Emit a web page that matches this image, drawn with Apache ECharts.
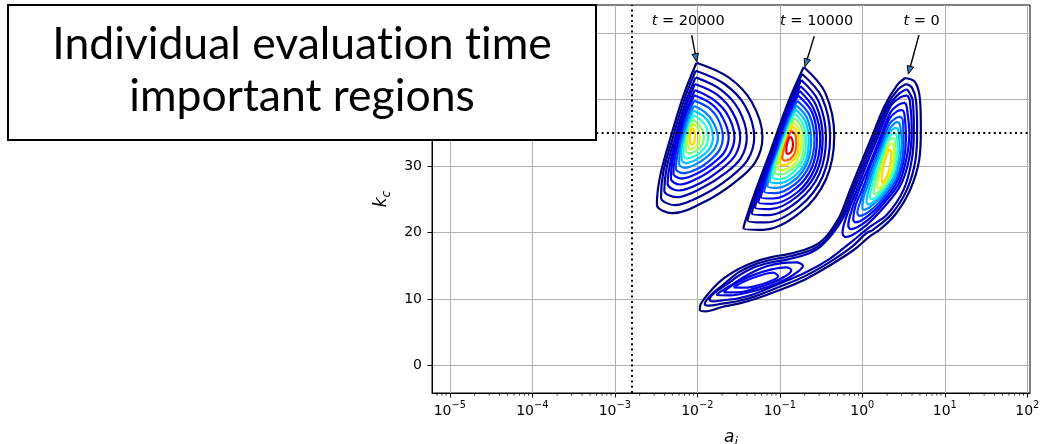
<!DOCTYPE html>
<html>
<head>
<meta charset="utf-8">
<script src="https://cdn.jsdelivr.net/npm/echarts@6/dist/echarts.min.js"></script>
<style>
  html, body { margin: 0; padding: 0; background: #fff; }
  #chart { width: 1043px; height: 444px; }
</style>
</head>
<body>
<div id="chart"></div>
<script>
// ---- axes (x is log10 of a_i) ----
const xRange = [-5.216, 2.033];
const kRange = [-4.12, 54.17];
const xTickValues = [-5, -4, -3, -2, -1, 0, 1, 2];
const kTickValues = [0, 10, 20, 30, 40, 50];
const minorDecades = [-6, -5, -4, -3, -2, -1, 0, 1];
const minorMultipliers = [2, 3, 4, 5, 6, 7, 8, 9];

// ---- reference thresholds ----
const thresholdA = 1.6e-3;
const thresholdK = 35;

// ---- contour level colours (lowest density first) ----
const levelColors = ['#00007f', '#000098', '#0000b2', '#0000cc', '#0000e6', '#0008ff', '#0048ff',
  '#0088ff', '#00c8ff', '#28ffd0', '#78ff80', '#c8ff30', '#ffd800', '#ff6000', '#e00000'];

// ---- density contours, points are [log10(a_i), k_c]; ring i sits on level i ----
const ringsT20000 = [
  [[-2.01,45.5],[-1.62,43.3],[-1.34,39.6],[-1.21,34.3],[-1.30,30.5],[-1.55,27.5],[-1.90,24.7],[-2.30,22.9],[-2.49,24.2],[-2.45,28.5],[-2.33,34.0],[-2.17,40.5]],
  [[-2.02,44.3],[-1.67,42.3],[-1.42,39.0],[-1.31,34.3],[-1.39,30.9],[-1.61,28.2],[-1.92,25.7],[-2.27,24.1],[-2.44,25.3],[-2.41,29.2],[-2.30,34.1],[-2.16,39.9]],
  [[-2.02,43.3],[-1.72,41.5],[-1.50,38.5],[-1.40,34.3],[-1.47,31.2],[-1.66,28.9],[-1.94,26.7],[-2.25,25.3],[-2.40,26.3],[-2.37,29.8],[-2.27,34.2],[-2.15,39.3]],
  [[-2.03,42.3],[-1.76,40.7],[-1.57,38.0],[-1.48,34.3],[-1.54,31.6],[-1.71,29.5],[-1.95,27.5],[-2.23,26.3],[-2.36,27.3],[-2.33,30.3],[-2.25,34.2],[-2.14,38.8]],
  [[-2.03,41.4],[-1.80,39.9],[-1.63,37.6],[-1.55,34.3],[-1.61,31.8],[-1.76,30.0],[-1.97,28.3],[-2.21,27.2],[-2.32,28.1],[-2.30,30.8],[-2.23,34.3],[-2.13,38.3]],
  [[-2.04,40.6],[-1.83,39.3],[-1.69,37.2],[-1.62,34.3],[-1.67,32.1],[-1.80,30.5],[-1.98,29.0],[-2.19,28.1],[-2.29,28.9],[-2.27,31.3],[-2.21,34.4],[-2.12,37.9]],
  [[-2.04,39.8],[-1.86,38.7],[-1.74,36.8],[-1.69,34.2],[-1.73,32.4],[-1.84,30.9],[-1.99,29.6],[-2.17,28.9],[-2.26,29.6],[-2.24,31.7],[-2.19,34.4],[-2.12,37.5]],
  [[-2.04,39.0],[-1.90,38.0],[-1.80,36.4],[-1.75,34.2],[-1.79,32.6],[-1.88,31.4],[-2.01,30.3],[-2.15,29.7],[-2.22,30.3],[-2.21,32.1],[-2.17,34.5],[-2.11,37.1]],
  [[-2.05,38.3],[-1.93,37.5],[-1.84,36.1],[-1.81,34.2],[-1.84,32.8],[-1.91,31.8],[-2.02,30.9],[-2.14,30.4],[-2.19,31.0],[-2.19,32.5],[-2.15,34.5],[-2.10,36.7]],
  [[-2.05,37.7],[-1.96,36.9],[-1.89,35.8],[-1.87,34.2],[-1.89,33.1],[-1.95,32.2],[-2.03,31.5],[-2.12,31.1],[-2.17,31.6],[-2.16,32.9],[-2.13,34.6],[-2.09,36.3]],
  [[-2.05,37.0],[-1.99,36.3],[-1.94,35.4],[-1.92,34.2],[-1.94,33.3],[-1.98,32.6],[-2.04,32.1],[-2.10,31.9],[-2.14,32.3],[-2.14,33.3],[-2.12,34.6],[-2.09,36.0]],
  [[-2.06,36.4],[-2.01,35.9],[-1.98,35.1],[-1.97,34.2],[-1.98,33.5],[-2.01,33.0],[-2.05,32.6],[-2.09,32.5],[-2.11,32.9],[-2.12,33.6],[-2.10,34.7],[-2.08,35.7]],
  [[-2.06,35.7],[-2.04,35.3],[-2.03,34.8],[-2.03,34.2],[-2.035,33.7],[-2.045,33.4],[-2.06,33.2],[-2.075,33.2],[-2.085,33.5],[-2.09,34.0],[-2.085,34.7],[-2.075,35.3]]
];

const ringsT10000 = [
  [[-0.71,44.85],[-0.45,41.0],[-0.34,34.5],[-0.44,28.0],[-0.75,23.0],[-1.20,20.4],[-1.44,20.6],[-1.33,25.0],[-1.12,32.0],[-0.90,39.5]],
  [[-0.73,43.8],[-0.49,40.3],[-0.39,34.4],[-0.48,28.4],[-0.76,23.9],[-1.17,21.5],[-1.39,21.8],[-1.29,25.8],[-1.10,32.1],[-0.90,39.0]],
  [[-0.74,42.9],[-0.53,39.7],[-0.44,34.3],[-0.52,28.8],[-0.78,24.7],[-1.14,22.6],[-1.34,22.8],[-1.25,26.5],[-1.08,32.3],[-0.90,38.5]],
  [[-0.75,42.0],[-0.56,39.1],[-0.48,34.2],[-0.55,29.2],[-0.79,25.4],[-1.12,23.5],[-1.30,23.7],[-1.22,27.1],[-1.06,32.4],[-0.90,38.0]],
  [[-0.76,41.3],[-0.59,38.6],[-0.51,34.1],[-0.58,29.5],[-0.79,26.0],[-1.10,24.3],[-1.26,24.5],[-1.19,27.6],[-1.05,32.5],[-0.90,37.7]],
  [[-0.78,40.6],[-0.61,38.1],[-0.55,34.0],[-0.61,29.8],[-0.80,26.7],[-1.08,25.1],[-1.23,25.3],[-1.16,28.2],[-1.03,32.6],[-0.90,37.3]],
  [[-0.79,39.8],[-0.64,37.6],[-0.58,33.9],[-0.64,30.1],[-0.81,27.3],[-1.06,25.9],[-1.19,26.1],[-1.13,28.7],[-1.02,32.7],[-0.90,36.9]],
  [[-0.80,39.1],[-0.67,37.2],[-0.62,33.8],[-0.67,30.4],[-0.82,27.9],[-1.04,26.7],[-1.15,26.9],[-1.11,29.2],[-1.00,32.8],[-0.90,36.5]],
  [[-0.81,38.5],[-0.69,36.7],[-0.65,33.7],[-0.69,30.6],[-0.83,28.4],[-1.02,27.4],[-1.12,27.6],[-1.08,29.7],[-0.99,32.9],[-0.89,36.2]],
  [[-0.82,37.9],[-0.72,36.3],[-0.68,33.6],[-0.72,30.9],[-0.84,29.0],[-1.00,28.0],[-1.09,28.3],[-1.06,30.2],[-0.98,32.9],[-0.89,35.9]],
  [[-0.83,37.2],[-0.74,35.9],[-0.71,33.6],[-0.74,31.1],[-0.85,29.5],[-0.99,28.7],[-1.06,29.0],[-1.03,30.6],[-0.97,33.0],[-0.89,35.6]],
  [[-0.84,36.6],[-0.77,35.5],[-0.74,33.5],[-0.77,31.4],[-0.85,30.0],[-0.97,29.4],[-1.03,29.7],[-1.01,31.1],[-0.95,33.1],[-0.89,35.2]],
  [[-0.85,36.0],[-0.79,35.1],[-0.77,33.4],[-0.79,31.7],[-0.86,30.6],[-0.95,30.1],[-1.00,30.4],[-0.98,31.5],[-0.94,33.2],[-0.89,34.9]],
  [[-0.86,35.3],[-0.81,34.6],[-0.80,33.3],[-0.82,31.9],[-0.87,31.1],[-0.93,30.8],[-0.97,31.1],[-0.96,32.0],[-0.93,33.3],[-0.89,34.6]],
  [[-0.87,34.4],[-0.85,34.0],[-0.84,33.2],[-0.855,32.3],[-0.88,31.9],[-0.905,31.8],[-0.92,32.1],[-0.92,32.7],[-0.91,33.4],[-0.89,34.1]]
];

// t = 0: the three lowest levels wrap the main peak and the low-k lobe together
const ringsT0Outer = [
  [[0.52,43.2],[0.64,42.6],[0.70,39.9],[0.71,35.4],[0.69,30.9],[0.58,26.4],[0.40,22.7],[0.21,20.4],[0.09,19.4],[-0.10,17.4],[-0.40,15.0],[-0.70,12.9],[-1.00,11.35],[-1.30,10.0],[-1.50,9.3],[-1.70,8.8],[-1.90,8.15],[-1.97,8.4],[-1.96,9.2],[-1.88,10.6],[-1.72,12.7],[-1.50,14.5],[-1.30,15.6],[-1.10,16.3],[-0.90,16.75],[-0.70,17.4],[-0.55,18.2],[-0.45,19.2],[-0.375,20.4],[-0.27,22.5],[-0.15,26.3],[-0.03,30.0],[0.12,34.5],[0.27,39.0],[0.42,42.1]],
  [[0.53,42.3],[0.60,41.8],[0.65,39.9],[0.665,35.4],[0.645,30.9],[0.54,26.4],[0.35,22.7],[0.13,20.4],[0.05,19.9],[-0.12,17.9],[-0.40,15.5],[-0.70,13.4],[-1.00,11.85],[-1.30,10.4],[-1.50,9.7],[-1.70,9.3],[-1.86,9.0],[-1.91,9.2],[-1.89,9.8],[-1.80,11.0],[-1.68,12.2],[-1.50,14.0],[-1.30,15.2],[-1.10,15.9],[-0.90,16.35],[-0.70,17.0],[-0.55,17.8],[-0.45,18.8],[-0.35,20.4],[-0.245,22.5],[-0.125,26.3],[-0.005,30.0],[0.145,34.5],[0.295,39.0],[0.435,41.5]],
  [[0.54,41.5],[0.57,41.0],[0.61,39.9],[0.625,35.4],[0.60,30.9],[0.50,26.4],[0.30,22.7],[0.10,20.9],[-0.15,18.4],[-0.40,16.0],[-0.70,13.9],[-1.00,12.35],[-1.30,10.8],[-1.50,10.1],[-1.70,9.8],[-1.80,9.65],[-1.85,9.85],[-1.83,10.5],[-1.74,11.4],[-1.62,12.4],[-1.50,13.5],[-1.30,14.8],[-1.10,15.5],[-0.90,15.95],[-0.70,16.6],[-0.56,17.4],[-0.46,18.4],[-0.325,20.4],[-0.22,22.5],[-0.10,26.3],[0.02,30.0],[0.17,34.5],[0.32,39.0],[0.45,40.9]]
];
const levelsT0Outer = [0, 1, 2];

// low-k lobe of t = 0
const ringsT0Lobe = [
  [[-1.77,10.6],[-1.60,10.55],[-1.40,10.95],[-1.15,11.8],[-0.92,13.0],[-0.78,14.1],[-0.72,15.0],[-0.80,15.5],[-0.98,15.4],[-1.15,14.95],[-1.30,14.2],[-1.45,13.2],[-1.60,12.0],[-1.72,11.1]],
  [[-1.68,11.0],[-1.52,11.0],[-1.30,11.6],[-1.10,12.4],[-0.95,13.3],[-0.86,14.3],[-0.92,14.75],[-1.10,14.45],[-1.30,13.7],[-1.50,12.6],[-1.63,11.6]],
  [[-1.56,11.75],[-1.42,11.7],[-1.25,12.1],[-1.10,12.75],[-1.02,13.4],[-1.08,13.95],[-1.25,13.5],[-1.42,12.7],[-1.53,12.0]]
];
const levelsT0Lobe = [3, 4, 5];

// main peak of t = 0
const ringsT0Peak = [
  [[0.545,40.6],[0.575,39.9],[0.60,35.4],[0.565,30.9],[0.46,27.0],[0.27,23.9],[0.04,21.0],[-0.20,19.3],[-0.24,19.9],[-0.19,22.5],[-0.07,26.3],[0.045,30.0],[0.195,34.5],[0.345,39.0],[0.46,40.3]],
  [[0.52,39.5],[0.54,38.8],[0.57,34.8],[0.53,30.8],[0.44,27.3],[0.27,24.5],[0.07,21.9],[-0.14,20.5],[-0.17,21.0],[-0.13,23.3],[-0.03,26.7],[0.08,30.0],[0.21,34.0],[0.34,38.0],[0.44,39.2]],
  [[0.49,38.4],[0.51,37.8],[0.53,34.3],[0.50,30.7],[0.42,27.6],[0.28,25.1],[0.10,22.8],[-0.08,21.5],[-0.11,22.0],[-0.08,24.1],[0.02,27.1],[0.10,30.1],[0.22,33.6],[0.33,37.1],[0.42,38.2]],
  [[0.46,37.4],[0.49,36.9],[0.50,33.8],[0.48,30.7],[0.41,27.9],[0.28,25.6],[0.13,23.6],[-0.03,22.5],[-0.06,22.9],[-0.02,24.8],[0.05,27.4],[0.13,30.1],[0.23,33.2],[0.33,36.3],[0.41,37.2]],
  [[0.44,36.6],[0.46,36.0],[0.48,33.4],[0.45,30.6],[0.39,28.1],[0.28,26.1],[0.15,24.4],[0.02,23.4],[0.00,23.8],[0.02,25.4],[0.09,27.8],[0.15,30.1],[0.24,32.9],[0.33,35.5],[0.39,36.4]],
  [[0.42,35.7],[0.44,35.2],[0.45,32.9],[0.43,30.5],[0.38,28.3],[0.28,26.5],[0.18,25.0],[0.07,24.2],[0.05,24.6],[0.07,26.0],[0.12,28.0],[0.17,30.1],[0.25,32.5],[0.32,34.8],[0.38,35.6]],
  [[0.40,34.9],[0.42,34.4],[0.43,32.5],[0.41,30.5],[0.36,28.5],[0.28,26.9],[0.20,25.7],[0.11,25.0],[0.09,25.4],[0.11,26.6],[0.15,28.3],[0.20,30.1],[0.26,32.2],[0.32,34.1],[0.36,34.8]],
  [[0.38,34.2],[0.40,33.7],[0.40,32.2],[0.39,30.4],[0.35,28.7],[0.29,27.3],[0.22,26.3],[0.15,25.8],[0.14,26.1],[0.15,27.1],[0.18,28.6],[0.22,30.2],[0.27,31.9],[0.31,33.5],[0.35,34.1]],
  [[0.36,33.4],[0.38,33.0],[0.38,31.8],[0.37,30.4],[0.34,29.0],[0.29,27.7],[0.24,27.0],[0.20,26.6],[0.18,26.8],[0.19,27.7],[0.21,28.9],[0.24,30.2],[0.28,31.6],[0.31,32.8],[0.34,33.3]],
  [[0.335,32.5],[0.35,32.1],[0.35,31.3],[0.34,30.3],[0.32,29.2],[0.29,28.2],[0.265,27.7],[0.245,27.5],[0.235,27.7],[0.235,28.3],[0.245,29.2],[0.26,30.2],[0.285,31.2],[0.305,32.0],[0.32,32.4]]
];
const levelsT0Peak = [3, 4, 5, 6, 7, 8, 9, 10, 11, 12];

// ---- annotations ----
const annotTimes = [20000, 10000, 0];
const annotTextAt = [[-2.11, 51.8], [-0.553, 51.8], [0.72, 51.8]];
const arrowFrom = [[-2.068, 49.66], [-0.582, 49.5], [0.687, 49.66]];
const arrowTo = [[-2.007, 45.65], [-0.695, 44.9], [0.558, 43.8]];

// ---- title box ----
// U+200C keeps the "ti" pairs from merging into a ligature
const boxLines = ['Individual evaluat\u200Cion t\u200Cime', 'important regions'];

// ---- build series ----
const FONT = 'DejaVu Sans';

function contourSeries(rings, levels) {
  return rings.map((pts, i) => ({
    type: 'line',
    data: pts.concat([pts[0]]),
    showSymbol: false,
    symbol: 'none',
    smooth: 0.35,
    silent: true,
    z: 3,
    lineStyle: { color: levelColors[levels[i]], width: 2.2 }
  }));
}

const series = []
  .concat(contourSeries(ringsT20000, ringsT20000.map((_, i) => i)))
  .concat(contourSeries(ringsT10000, ringsT10000.map((_, i) => i)))
  .concat(contourSeries(ringsT0Outer, levelsT0Outer))
  .concat(contourSeries(ringsT0Lobe, levelsT0Lobe))
  .concat(contourSeries(ringsT0Peak, levelsT0Peak));

// log-scale minor ticks along the bottom axis
const minorTicks = [];
minorDecades.forEach(d => minorMultipliers.forEach(m => {
  const v = d + Math.log10(m);
  if (v > xRange[0] && v < xRange[1]) minorTicks.push([v, kRange[0]]);
}));
series.push({
  type: 'custom',
  silent: true,
  z: 4,
  clip: false,
  data: minorTicks,
  renderItem(params, api) {
    const p = api.coord([api.value(0), api.value(1)]);
    return {
      type: 'line',
      shape: { x1: p[0], y1: p[1], x2: p[0], y2: p[1] + 2.6 },
      style: { stroke: '#000', lineWidth: 0.8 }
    };
  }
});

// threshold lines and the time annotations with arrows
series.push({
  type: 'custom',
  silent: true,
  z: 6,
  clip: false,
  data: arrowTo,
  renderItem(params, api) {
    const i = params.dataIndex;
    const p0 = api.coord(arrowFrom[i]);
    const p1 = api.coord(arrowTo[i]);
    const tp = api.coord(annotTextAt[i]);
    const dx = p1[0] - p0[0], dy = p1[1] - p0[1];
    const len = Math.hypot(dx, dy), ux = dx / len, uy = dy / len;
    const hl = 8, hw = 3.3;
    const bx = p1[0] - ux * hl, by = p1[1] - uy * hl;
    return {
      type: 'group',
      children: [
        { type: 'line', shape: { x1: p0[0], y1: p0[1], x2: bx, y2: by },
          style: { stroke: '#000', lineWidth: 1.4 } },
        { type: 'polygon',
          shape: { points: [[p1[0], p1[1]], [bx - uy * hw, by + ux * hw], [bx + uy * hw, by - ux * hw]] },
          style: { fill: '#2f7fc1', stroke: '#000', lineWidth: 1 } },
        { type: 'text', x: tp[0], y: tp[1],
          style: {
            text: '{i|t} = ' + annotTimes[i],
            align: 'center', verticalAlign: 'middle',
            fontFamily: FONT, fontSize: 14.5, fill: '#000',
            rich: { i: { fontFamily: FONT, fontSize: 14.5, fontStyle: 'italic', fill: '#000' } }
          } }
      ]
    };
  },
  markLine: {
    silent: true,
    symbol: 'none',
    animation: false,
    label: { show: false },
    lineStyle: { color: '#000', width: 2, type: [2, 3.3] },
    data: [{ xAxis: Math.log10(thresholdA) }, { yAxis: thresholdK }]
  }
});

function powLabel(v) {
  const n = Math.round(v);
  if (Math.abs(v - n) > 1e-6) return '';
  return '{b|10}{s|' + String(n).replace('-', '\u2212') + '}';
}

const chart = echarts.init(document.getElementById('chart'), null, { renderer: 'canvas' });
chart.setOption({
  animation: false,
  backgroundColor: '#fff',
  textStyle: { fontFamily: FONT },
  grid: {
    left: 432, top: 5, width: 598, height: 388,
    outerBoundsMode: 'none', containLabel: false,
    show: true, borderColor: '#000', borderWidth: 1, backgroundColor: 'transparent'
  },
  xAxis: {
    type: 'value',
    min: xRange[0], max: xRange[1],
    minInterval: 1, maxInterval: 1,
    name: '{a|a}{i|i}',
    nameLocation: 'middle',
    nameGap: 36,
    nameTextStyle: {
      rich: {
        a: { fontFamily: FONT, fontSize: 17, fontStyle: 'italic', color: '#000', lineHeight: 20, verticalAlign: 'top' },
        i: { fontFamily: FONT, fontSize: 12, fontStyle: 'italic', color: '#000', lineHeight: 12, verticalAlign: 'bottom' }
      }
    },
    axisLine: { show: true, onZero: false, lineStyle: { color: '#000', width: 1 } },
    axisTick: { show: true, length: 4.5, lineStyle: { color: '#000', width: 1 }, customValues: xTickValues },
    axisLabel: {
      customValues: xTickValues,
      margin: 7,
      formatter: powLabel,
      rich: {
        b: { fontFamily: FONT, fontSize: 14, color: '#000', lineHeight: 18, verticalAlign: 'bottom' },
        s: { fontFamily: FONT, fontSize: 9.8, color: '#000', lineHeight: 10, verticalAlign: 'top' }
      }
    },
    splitLine: { show: true, lineStyle: { color: '#b0b0b0', width: 1 } }
  },
  yAxis: {
    type: 'value',
    min: kRange[0], max: kRange[1],
    minInterval: 10, maxInterval: 10,
    name: '{k|k}{c|c}',
    nameLocation: 'middle',
    nameRotate: 90,
    nameGap: 38,
    nameTextStyle: {
      rich: {
        k: { fontFamily: FONT, fontSize: 17, fontStyle: 'italic', color: '#000', lineHeight: 20, verticalAlign: 'top' },
        c: { fontFamily: FONT, fontSize: 12, fontStyle: 'italic', color: '#000', lineHeight: 12, verticalAlign: 'bottom' }
      }
    },
    axisLine: { show: true, onZero: false, lineStyle: { color: '#000', width: 1 } },
    axisTick: { show: true, length: 4.5, lineStyle: { color: '#000', width: 1 }, customValues: kTickValues },
    axisLabel: {
      customValues: kTickValues,
      margin: 10,
      fontFamily: FONT, fontSize: 14, color: '#000',
      formatter: v => (Math.abs(v - Math.round(v / 10) * 10) < 1e-6 ? String(Math.round(v)) : '')
    },
    splitLine: { show: true, lineStyle: { color: '#b0b0b0', width: 1 } }
  },
  graphic: [
    { type: 'rect', z: 100, silent: true,
      shape: { x: 8, y: 5, width: 588, height: 135 },
      style: { fill: '#fff', stroke: '#000', lineWidth: 2 } },
    { type: 'text', z: 101, silent: true, x: 302, y: 45,
      style: { text: boxLines[0], fontFamily: 'Lato', fontSize: 44.5, fill: '#000', align: 'center', verticalAlign: 'middle' } },
    { type: 'text', z: 101, silent: true, x: 302, y: 97,
      style: { text: boxLines[1], fontFamily: 'Lato', fontSize: 44.5, fill: '#000', align: 'center', verticalAlign: 'middle' } }
  ],
  series: series
});
</script>
</body>
</html>
